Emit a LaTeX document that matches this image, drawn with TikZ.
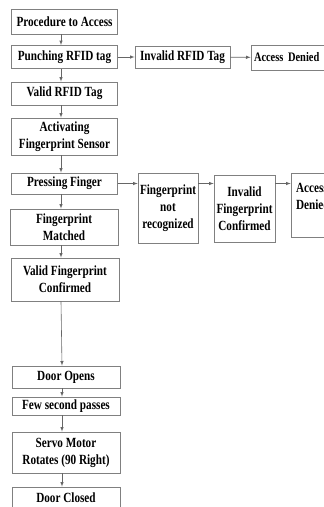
\documentclass[tikz,border=0pt]{standalone}
\usepackage{fontspec}
\setmainfont{Liberation Serif}[FakeStretch=0.8]
\usetikzlibrary{arrows,positioning,calc}

\begin{document}
\begin{tikzpicture}[x=1pt,y=-1pt,
    box/.style={draw=black!50, line width=0.8pt, fill=white, align=center, inner sep=1pt,
      font=\fontsize{14}{17}\selectfont\bfseries},
    arr/.style={->, >=latex, draw=black!60, line width=0.6pt}]
            \clip (0,0) rectangle (324,507);
            % left column
            \node[box, minimum width=106pt, minimum height=25pt] (proc) at (64.5,21.5) {Procedure to Access};
            \node[box, minimum width=106pt, minimum height=23pt] (punch) at (64.5,57) {Punching RFID tag};
            \node[box, minimum width=106pt, minimum height=23pt] (validrfid) at (64.5,93.5) {Valid RFID Tag};
            \node[box, minimum width=106pt, minimum height=37pt] (activ) at (64.5,136.5) {Activating\\Fingerprint Sensor};
            \node[box, minimum width=106pt, minimum height=21pt] (press) at (64.5,183.5) {Pressing Finger};
            \node[box, minimum width=108pt, minimum height=36pt] (match) at (64,227) {Fingerprint\\Matched};
            \node[box, minimum width=108pt, minimum height=43pt] (validfp) at (65,279.5) {Valid Fingerprint\\Confirmed};
            \node[box, minimum width=108pt, minimum height=22pt] (opens) at (66,377) {Door Opens};
            \node[box, minimum width=108pt, minimum height=18pt] (passes) at (66,406) {Few second passes};
            \node[box, minimum width=108pt, minimum height=41pt] (servo) at (66,452.5) {Servo Motor\\Rotates (90 Right)};
            \node[box, minimum width=108pt, minimum height=22pt] (closed) at (66,498) {Door Closed};
            % rejected branches
            \node[box, minimum width=95pt, minimum height=22pt] (invrfid) at (182.5,57) {Invalid RFID Tag};
            \node[box, minimum width=90pt, minimum height=25pt, text width=84pt, align=left, inner xsep=3pt] (denied) at (296,57.5) {\fontsize{13}{17}\selectfont Access Denied};
            \node[box, minimum width=60pt, minimum height=64pt, text width=50pt, align=left, inner xsep=5pt] (deniedfp) at (321,205) {Access\\Denied\\\mbox{}};
            \node[box, minimum width=60pt, minimum height=70pt] (notrec) at (168,208) {Fingerprint\\not\\recognized};
            \node[box, minimum width=61pt, minimum height=67pt] (invfp) at (244.5,208.5) {Invalid\\Fingerprint\\Confirmed};
            \draw[arr] ([xshift=-3.5pt]proc.south) -- ([xshift=-3.5pt]punch.north);
            \draw[arr] ([xshift=-3.5pt]punch.south) -- ([xshift=-3.5pt]validrfid.north);
            \draw[arr] ([xshift=-3.5pt]validrfid.south) -- ([xshift=-3.5pt]activ.north);
            \draw[arr] ([xshift=-3.5pt]activ.south) -- ([xshift=-3.5pt]press.north);
            \draw[arr] ([xshift=-3.5pt]press.south) -- ([xshift=-3pt]match.north);
            \draw[arr] ([xshift=-3pt]match.south) -- ([xshift=-4pt]validfp.north);
            \draw[arr] ([xshift=-4pt]validfp.south) -- ([xshift=-4pt]opens.north);
            \draw[arr] ([xshift=-4pt]opens.south) -- ([xshift=-4pt]passes.north);
            \draw[arr] ([xshift=-4pt]passes.south) -- ([xshift=-4pt]servo.north);
            \draw[arr] ([xshift=-4pt]servo.south) -- ([xshift=-4pt]closed.north);
            \draw[arr] (punch) -- (invrfid);
            \draw[arr] (invrfid) -- (denied);
            \draw[arr] (press.east) -- (press.east -| notrec.west);
            \draw[arr] (notrec.east |- press.east) -- (invfp.west |- press.east);
            \draw[arr] (invfp.east |- press.east) -- (deniedfp.west |- press.east);
        \end{tikzpicture}
\end{document}
